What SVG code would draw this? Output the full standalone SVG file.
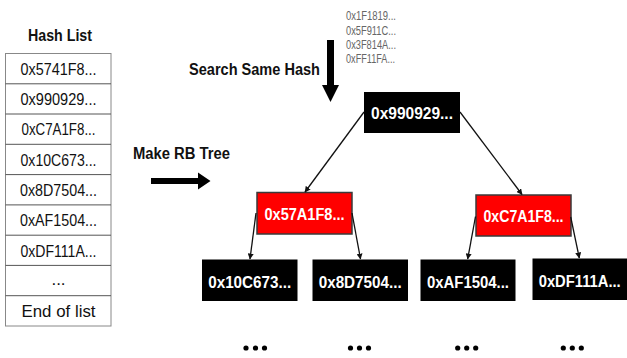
<svg xmlns="http://www.w3.org/2000/svg" width="627" height="358" viewBox="0 0 627 358">
  <style>
    .title { font-family: "Liberation Sans", Arial, sans-serif; font-weight: bold; font-size: 16px; fill: #111; }
    .item { font-family: "Liberation Sans", Arial, sans-serif; font-size: 17px; fill: #111; text-anchor: middle; }
    .small { font-family: "Liberation Sans", Arial, sans-serif; font-size: 12px; fill: #666; }
    .lbl { font-family: "Liberation Sans", Arial, sans-serif; font-weight: bold; font-size: 16px; fill: #fff; text-anchor: middle; }
    .blk { fill: #000; }
    .red { fill: #ff0000; stroke: #3a3a3a; stroke-width: 1.5; }
    .row { fill: none; stroke: #555; stroke-width: 1; }
    .edge { stroke: #111; stroke-width: 1.3; fill: none; marker-end: url(#ah); }
    .dot { fill: #000; }
  </style>
  <defs>
    <marker id="ah" viewBox="0 0 10 10" refX="9" refY="5" markerWidth="6" markerHeight="6" markerUnits="userSpaceOnUse" orient="auto">
      <path d="M0,0 L10,5 L0,10 z" fill="#111"/>
    </marker>
  </defs>

  <!-- hash list column -->
  <g id="hash-list">
    <text class="title" x="28" y="41" textLength="64" lengthAdjust="spacingAndGlyphs">Hash List</text>
    <rect x="5.5" y="53.5" width="105.5" height="272.5" fill="#fff" stroke="#888" stroke-width="1"/>
    <line class="row" x1="5.5" y1="83.8" x2="111" y2="83.8"/>
    <line class="row" x1="5.5" y1="114" x2="111" y2="114"/>
    <line class="row" x1="5.5" y1="144.3" x2="111" y2="144.3"/>
    <line class="row" x1="5.5" y1="174.6" x2="111" y2="174.6"/>
    <line class="row" x1="5.5" y1="204.9" x2="111" y2="204.9"/>
    <line class="row" x1="5.5" y1="235.2" x2="111" y2="235.2"/>
    <line class="row" x1="5.5" y1="265.4" x2="111" y2="265.4"/>
    <line class="row" x1="5.5" y1="295.7" x2="111" y2="295.7"/>
    <text class="item" x="58.5" y="74.8" textLength="76" lengthAdjust="spacingAndGlyphs">0x5741F8...</text>
    <text class="item" x="58.5" y="105.1" textLength="76" lengthAdjust="spacingAndGlyphs">0x990929...</text>
    <text class="item" x="58.5" y="135.4" textLength="74" lengthAdjust="spacingAndGlyphs">0xC7A1F8...</text>
    <text class="item" x="58.5" y="165.7" textLength="76" lengthAdjust="spacingAndGlyphs">0x10C673...</text>
    <text class="item" x="58.5" y="196" textLength="77" lengthAdjust="spacingAndGlyphs">0x8D7504...</text>
    <text class="item" x="58.5" y="226.3" textLength="77" lengthAdjust="spacingAndGlyphs">0xAF1504...</text>
    <text class="item" x="58.5" y="256.6" textLength="76" lengthAdjust="spacingAndGlyphs">0xDF111A...</text>
    <text class="item" x="58.5" y="284.5">...</text>
    <text class="item" x="58.5" y="317" textLength="74" lengthAdjust="spacingAndGlyphs">End of list</text>
  </g>

  <!-- incoming hashes and search step -->
  <g id="search">
    <text class="small" x="346" y="19.5" textLength="50" lengthAdjust="spacingAndGlyphs">0x1F1819...</text>
    <text class="small" x="346" y="34.5" textLength="50" lengthAdjust="spacingAndGlyphs">0x5F911C...</text>
    <text class="small" x="346" y="48.5" textLength="50" lengthAdjust="spacingAndGlyphs">0x3F814A...</text>
    <text class="small" x="346" y="62.5" textLength="49" lengthAdjust="spacingAndGlyphs">0xFF11FA...</text>
    <text class="title" x="189" y="74.5" textLength="131" lengthAdjust="spacingAndGlyphs">Search Same Hash</text>
    <path d="M327,40 H334 V85 H339 L330.5,102 L322,85 H327 Z" fill="#000"/>
  </g>

  <!-- build step -->
  <g id="make-tree">
    <text class="title" x="133" y="158.5" textLength="97" lengthAdjust="spacingAndGlyphs">Make RB Tree</text>
    <path d="M151,178 H198 V172.5 L210.5,181 L198,189.5 V184 H151 Z" fill="#000"/>
  </g>

  <!-- tree nodes -->
  <g id="root">
    <rect class="blk" x="364" y="92" width="96" height="41"/>
    <text class="lbl" x="412" y="118.5" textLength="82" lengthAdjust="spacingAndGlyphs">0x990929...</text>
  </g>
  <g id="red-left">
    <rect class="red" x="257" y="192.5" width="95" height="41.5"/>
    <text class="lbl" x="304.5" y="219.5" textLength="80" lengthAdjust="spacingAndGlyphs">0x57A1F8...</text>
  </g>
  <g id="red-right">
    <rect class="red" x="476" y="195" width="95" height="41"/>
    <text class="lbl" x="523.5" y="222" textLength="80" lengthAdjust="spacingAndGlyphs">0xC7A1F8...</text>
  </g>
  <g id="leaf-1">
    <rect class="blk" x="202" y="259.5" width="95.5" height="41.5"/>
    <text class="lbl" x="249.7" y="287.5" font-size="17" textLength="83" lengthAdjust="spacingAndGlyphs">0x10C673...</text>
  </g>
  <g id="leaf-2">
    <rect class="blk" x="312.5" y="259.5" width="95.5" height="41.5"/>
    <text class="lbl" x="360.2" y="287.5" font-size="17" textLength="83" lengthAdjust="spacingAndGlyphs">0x8D7504...</text>
  </g>
  <g id="leaf-3">
    <rect class="blk" x="420.5" y="259.5" width="95" height="41.5"/>
    <text class="lbl" x="468" y="287.5" font-size="17" textLength="82" lengthAdjust="spacingAndGlyphs">0xAF1504...</text>
  </g>
  <g id="leaf-4">
    <rect class="blk" x="532.5" y="258.5" width="94.5" height="41.5"/>
    <text class="lbl" x="579.7" y="286.5" font-size="17" textLength="82" lengthAdjust="spacingAndGlyphs">0xDF111A...</text>
  </g>

  <!-- parent-to-child links -->
  <g id="connectors">
    <line class="edge" x1="364" y1="112" x2="305" y2="192"/>
    <line class="edge" x1="460" y1="112" x2="522" y2="194.5"/>
    <line class="edge" x1="256" y1="213" x2="250" y2="259"/>
    <line class="edge" x1="352" y1="213" x2="360.5" y2="259"/>
    <line class="edge" x1="475.5" y1="216.5" x2="467.7" y2="259"/>
    <line class="edge" x1="570.7" y1="217" x2="579.3" y2="258"/>
  </g>

  <!-- continuation marks below the leaves -->
  <g id="more">
    <circle class="dot" cx="246" cy="348" r="2.6"/>
    <circle class="dot" cx="255.5" cy="348" r="2.6"/>
    <circle class="dot" cx="264.5" cy="348" r="2.6"/>
    <circle class="dot" cx="350.5" cy="348" r="2.6"/>
    <circle class="dot" cx="359.5" cy="348" r="2.6"/>
    <circle class="dot" cx="368.5" cy="348" r="2.6"/>
    <circle class="dot" cx="457.7" cy="348" r="2.6"/>
    <circle class="dot" cx="466.7" cy="348" r="2.6"/>
    <circle class="dot" cx="475.7" cy="348" r="2.6"/>
    <circle class="dot" cx="563.3" cy="348" r="2.6"/>
    <circle class="dot" cx="572.3" cy="348" r="2.6"/>
    <circle class="dot" cx="581.3" cy="348" r="2.6"/>
  </g>
</svg>
